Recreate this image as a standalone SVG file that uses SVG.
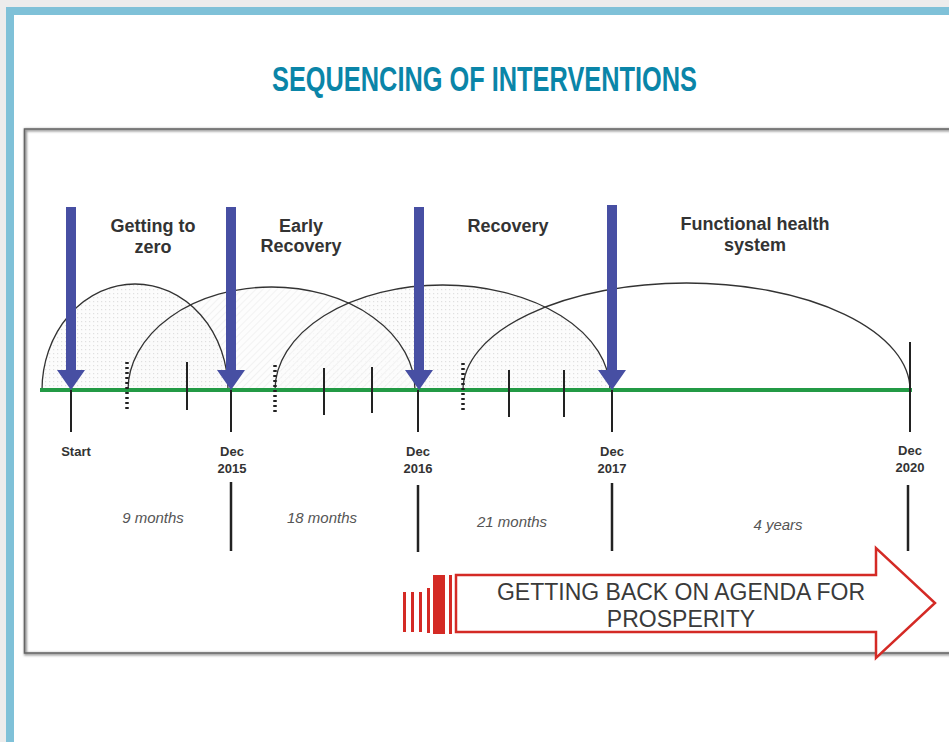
<svg xmlns="http://www.w3.org/2000/svg" width="949" height="742" viewBox="0 0 949 742">
<defs>
<pattern id="dots" width="4" height="4" patternUnits="userSpaceOnUse">
<rect width="4" height="4" fill="#fbfbfb"/>
<rect x="1" y="1" width="1.2" height="1.2" fill="#d8d8d8"/>
</pattern>
<pattern id="hatch" width="5" height="5" patternUnits="userSpaceOnUse" patternTransform="rotate(45)">
<rect width="5" height="5" fill="#fcfcfc"/>
<line x1="0" y1="0" x2="0" y2="5" stroke="#e2e2e2" stroke-width="1"/>
</pattern>
<filter id="sh" x="-5%" y="-5%" width="110%" height="110%">
<feGaussianBlur stdDeviation="0.8"/>
</filter>
</defs>
<style>
.phase{font-family:"Liberation Sans",Arial,sans-serif;font-weight:bold;font-size:18px;fill:#333;text-anchor:middle}
.date{font-family:"Liberation Sans",Arial,sans-serif;font-weight:bold;font-size:13px;fill:#333;text-anchor:middle}
.dur{font-family:"Liberation Sans",Arial,sans-serif;font-style:italic;font-size:15px;fill:#555;text-anchor:middle}
.arc{stroke:#333;stroke-width:1.3;fill:none}
.tick{stroke:#222;stroke-width:2}
.dotted{stroke:#222;stroke-width:3.5;stroke-dasharray:2 3}
.low{stroke:#222;stroke-width:2.5}
.blue{fill:#474fa3}
.red{fill:#d42a25}
.ag{font-family:"Liberation Sans",Arial,sans-serif;font-size:23px;fill:#3a3a3a;text-anchor:middle}
</style>
<rect width="949" height="742" fill="#ececec"/>
<rect x="6" y="7" width="943" height="735" fill="#7fc1d8"/>
<rect x="14" y="15" width="935" height="727" fill="#ffffff"/>
<g id="title">
<text x="484.5" y="91" font-family="Liberation Sans Narrow,Liberation Sans,Arial,sans-serif" font-weight="bold" font-size="35" fill="#0a85a8" text-anchor="middle" textLength="425" lengthAdjust="spacingAndGlyphs">SEQUENCING OF INTERVENTIONS</text>
</g>
<g id="frame">
<rect x="25.5" y="130" width="940" height="524" fill="none" stroke="#999" stroke-width="3" filter="url(#sh)"/>
<rect x="24.5" y="129" width="940" height="524" fill="none" stroke="#666" stroke-width="1.5"/>
</g>
<g id="arcs">
<path d="M463 390 A223.5 107 0 0 1 910 390 Z" fill="#ffffff" stroke="none"/>
<path d="M275 390 A167.5 105 0 0 1 610 390 Z" fill="url(#dots)" stroke="none" opacity="0.8"/>
<path d="M128 390 A143.5 103 0 0 1 415 390 Z" fill="url(#hatch)" stroke="none" opacity="0.8"/>
<path d="M42 390 A93 106 0 0 1 228 390 Z" fill="url(#dots)" stroke="none" opacity="0.8"/>
<path class="arc" d="M42 390 A93 106 0 0 1 228 390"/>
<path class="arc" d="M128 390 A143.5 103 0 0 1 415 390"/>
<path class="arc" d="M275 390 A167.5 105 0 0 1 610 390"/>
<path class="arc" d="M463 390 A223.5 107 0 0 1 910 390"/>
</g>
<g id="timeline">
<line x1="40" y1="390" x2="912" y2="390" stroke="#239a45" stroke-width="4"/>
<line class="tick" x1="71" y1="390" x2="71" y2="432"/>
<line class="tick" x1="187" y1="362" x2="187" y2="410"/>
<line class="tick" x1="231" y1="390" x2="231" y2="432"/>
<line class="tick" x1="324" y1="368" x2="324" y2="415"/>
<line class="tick" x1="372" y1="367" x2="372" y2="413"/>
<line class="tick" x1="418" y1="390" x2="418" y2="432"/>
<line class="tick" x1="509" y1="370" x2="509" y2="417"/>
<line class="tick" x1="564" y1="370" x2="564" y2="417"/>
<line class="tick" x1="612" y1="390" x2="612" y2="432"/>
<line class="tick" x1="910" y1="342" x2="910" y2="432"/>
<line class="dotted" x1="127" y1="362" x2="127" y2="410"/>
<line class="dotted" x1="275" y1="365" x2="275" y2="412"/>
<line class="dotted" x1="463" y1="363" x2="463" y2="412"/>
<line class="low" x1="231" y1="482" x2="231" y2="551"/>
<line class="low" x1="418" y1="485" x2="418" y2="552"/>
<line class="low" x1="612" y1="483" x2="612" y2="551"/>
<line class="low" x1="908" y1="485" x2="908" y2="551"/>
</g>
<g id="arrow-start"><polygon class="blue" points="66,207 76,207 76,370 85,370 71,390 57,370 66,370"/></g>
<g id="arrow-2015"><polygon class="blue" points="226,207 236,207 236,370 245,370 231,390 217,370 226,370"/></g>
<g id="arrow-2016"><polygon class="blue" points="414,207 424,207 424,370 433,370 419,390 405,370 414,370"/></g>
<g id="arrow-2017"><polygon class="blue" points="607,205 617,205 617,370 626,370 612,390 598,370 607,370"/></g>
<g id="phase-1"><text class="phase" x="153" y="232">Getting to</text><text class="phase" x="153" y="253">zero</text></g>
<g id="phase-2"><text class="phase" x="301" y="232">Early</text><text class="phase" x="301" y="252">Recovery</text></g>
<g id="phase-3"><text class="phase" x="508" y="232">Recovery</text></g>
<g id="phase-4"><text class="phase" x="755" y="230">Functional health</text><text class="phase" x="755" y="251">system</text></g>
<g id="dates">
<text class="date" x="76" y="456">Start</text>
<text class="date" x="232" y="456">Dec</text><text class="date" x="232" y="473">2015</text>
<text class="date" x="418" y="456">Dec</text><text class="date" x="418" y="473">2016</text>
<text class="date" x="612" y="456">Dec</text><text class="date" x="612" y="473">2017</text>
<text class="date" x="910" y="455">Dec</text><text class="date" x="910" y="472">2020</text>
</g>
<g id="durations">
<text class="dur" x="153" y="523">9 months</text>
<text class="dur" x="322" y="523">18 months</text>
<text class="dur" x="512" y="527">21 months</text>
<text class="dur" x="778" y="530">4 years</text>
</g>
<g id="prosperity-arrow">
<rect class="red" x="403" y="592" width="3" height="40"/>
<rect class="red" x="411" y="592" width="3" height="40"/>
<rect class="red" x="419" y="592" width="3" height="40"/>
<rect class="red" x="427" y="588" width="3" height="45"/>
<rect class="red" x="433" y="575" width="12" height="59"/>
<rect class="red" x="449" y="575" width="3" height="59"/>
<polygon points="456,575 876,575 876,548 935,603 876,658 876,632 456,632" fill="#ffffff" stroke="#d42a25" stroke-width="2.5"/>
<text class="ag" x="681" y="600">GETTING BACK ON AGENDA FOR</text>
<text class="ag" x="681" y="627">PROSPERITY</text>
</g>
</svg>
